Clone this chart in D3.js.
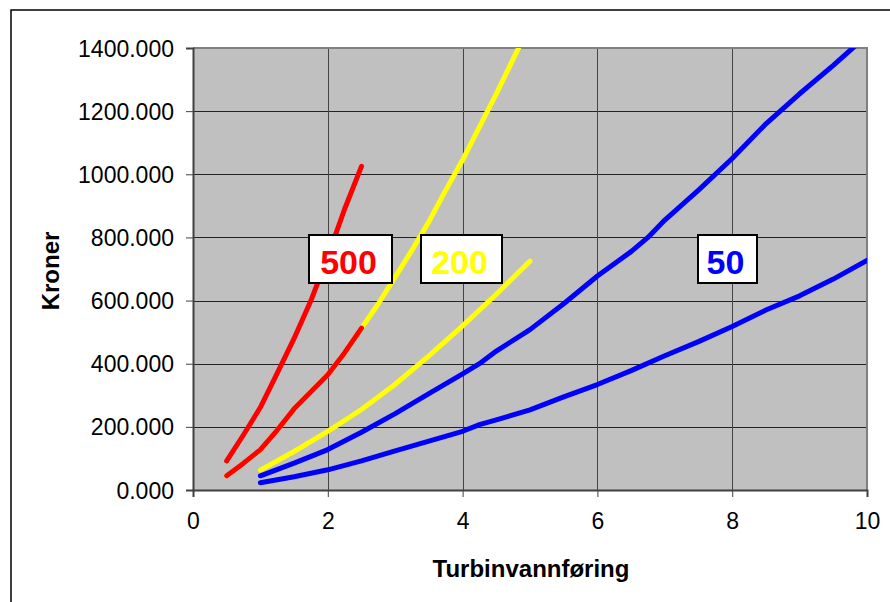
<!DOCTYPE html>
<html>
<head>
<meta charset="utf-8">
<script src="https://cdn.jsdelivr.net/npm/d3@7"></script>
<style>
body { margin: 0; background: #fff; }
text { font-family: Arial, "Liberation Sans", sans-serif; }
</style>
</head>
<body>
<script>
// data, kroner in thousands
var red_hi_x = [0.5, 0.75, 1, 1.25, 1.5, 1.75, 2, 2.25, 2.5];
var red_hi_y = [92, 175, 262, 370, 480, 600, 740, 890, 1025];
var red_lo_x = [0.5, 0.75, 1, 1.25, 1.5, 1.75, 2, 2.25, 2.5];
var red_lo_y = [45, 85, 128, 190, 257, 311, 365, 435, 513];
var yel_hi_x = [0.5, 0.75, 1, 1.25, 1.5, 1.75, 2, 2.25, 2.5, 2.75, 3, 3.25, 3.5, 3.75, 4, 4.25, 4.5, 4.75, 5];
var yel_hi_y = [45, 85, 128, 190, 257, 311, 365, 435, 513, 590, 675, 760, 850, 950, 1045, 1150, 1255, 1365, 1475];
var yel_lo_x = [1, 1.5, 2, 2.5, 3, 3.5, 4, 4.5, 5];
var yel_lo_y = [63, 122, 186, 255, 335, 425, 520, 620, 725];
var blu_hi_x = [1, 1.5, 2, 2.5, 3, 3.5, 4, 4.25, 4.5, 5, 5.5, 6, 6.5, 6.75, 7, 7.5, 8, 8.5, 9, 9.5, 10];
var blu_hi_y = [45, 85, 128, 183, 242, 305, 368, 400, 440, 508, 590, 678, 755, 800, 855, 950, 1050, 1160, 1255, 1345, 1440];
var blu_lo_x = [1, 1.5, 2, 2.5, 3, 3.5, 4, 4.25, 4.5, 5, 5.5, 6, 6.5, 7, 7.5, 8, 8.5, 9, 9.5, 10];
var blu_lo_y = [23, 42, 64, 92, 124, 155, 186, 207, 222, 254, 295, 334, 378, 425, 470, 518, 570, 615, 668, 727];

var x_ticks = [0, 2, 4, 6, 8, 10];
var y_ticks = [0, 200, 400, 600, 800, 1000, 1200, 1400];

var series_list = [
	{x: yel_hi_x, y: yel_hi_y, color: "#FFFF00"},
	{x: red_hi_x, y: red_hi_y, color: "#FF0000"},
	{x: red_lo_x, y: red_lo_y, color: "#FF0000"},
	{x: yel_lo_x, y: yel_lo_y, color: "#FFFF00"},
	{x: blu_hi_x, y: blu_hi_y, color: "#0000FF"},
	{x: blu_lo_x, y: blu_lo_y, color: "#0000FF"}
];
var label_names = ["500", "200", "50"];
var label_colors = ["#FF0000", "#FFFF00", "#0000FF"];
var label_pos = [[309, 235, 83], [421, 235, 81], [698, 235, 59]];

///////////////////////////
// plot parameter
var svg = d3.select("body")
	.append("svg")
	.attr("width", 890)
	.attr("height", 602);

var margin = {top: 48, left: 193, right: 867, bottom: 490};

// outer frame
svg.append("rect")
	.attr("x", 11).attr("y", 10)
	.attr("width", 920).attr("height", 640)
	.attr("fill", "none")
	.attr("stroke", "#000")
	.attr("stroke-width", 1.5);

var xScale = d3.scaleLinear().domain([0, 10]).range([margin.left, margin.right]);
var yScale = d3.scaleLinear().domain([0, 1400]).range([margin.bottom, margin.top]);

// plot area
svg.append("rect")
	.attr("x", margin.left).attr("y", margin.top)
	.attr("width", margin.right - margin.left)
	.attr("height", margin.bottom - margin.top)
	.attr("fill", "#C0C0C0");

// grid
svg.append("g").selectAll("line")
	.data(y_ticks.slice(1, -1))
	.enter().append("line")
	.attr("x1", margin.left).attr("x2", margin.right)
	.attr("y1", function(d) { return Math.round(yScale(d)) + 0.5; })
	.attr("y2", function(d) { return Math.round(yScale(d)) + 0.5; })
	.attr("stroke", "#222").attr("stroke-width", 1);
svg.append("g").selectAll("line")
	.data(x_ticks.slice(1, -1))
	.enter().append("line")
	.attr("y1", margin.top).attr("y2", margin.bottom)
	.attr("x1", function(d) { return Math.round(xScale(d)) + 0.5; })
	.attr("x2", function(d) { return Math.round(xScale(d)) + 0.5; })
	.attr("stroke", "#444").attr("stroke-width", 1);

// top and right border
svg.append("path")
	.attr("d", "M" + margin.left + "," + margin.top + "H" + margin.right + "V" + margin.bottom)
	.attr("fill", "none")
	.attr("stroke", "#808080")
	.attr("stroke-width", 2);

// axes
var xAxis = d3.axisBottom(xScale).tickValues(x_ticks).tickSize(7).tickPadding(16);
var yAxis = d3.axisLeft(yScale).tickValues(y_ticks).tickSize(7).tickPadding(12)
	.tickFormat(d3.format(".3f"));

var gx = svg.append("g")
	.attr("transform", "translate(0," + margin.bottom + ")")
	.call(xAxis);
var gy = svg.append("g")
	.attr("transform", "translate(" + margin.left + ",0)")
	.call(yAxis);
[gx, gy].forEach(function(g) {
	g.select(".domain").attr("stroke", "#404040").attr("stroke-width", 2);
	g.selectAll(".tick line").attr("stroke", "#404040");
	g.selectAll(".tick text")
		.attr("fill", "#000")
		.style("font-size", "23px")
		.style("font-family", "Arial, 'Liberation Sans', sans-serif");
});
gy.selectAll(".tick text").attr("dy", "0.35em");

// clip
svg.append("clipPath").attr("id", "plotClip")
	.append("rect")
	.attr("x", margin.left).attr("y", margin.top)
	.attr("width", margin.right - margin.left)
	.attr("height", margin.bottom - margin.top);

var lineFunction = d3.line()
	.x(function(d) { return xScale(d[0]); })
	.y(function(d) { return yScale(d[1]); });

var lines = svg.append("g").attr("clip-path", "url(#plotClip)");
series_list.forEach(function(s) {
	var pts = s.x.map(function(v, i) { return [v, s.y[i]]; });
	lines.append("path")
		.attr("d", lineFunction(pts))
		.attr("fill", "none")
		.attr("stroke", s.color)
		.attr("stroke-width", 5)
		.attr("stroke-linejoin", "round")
		.attr("stroke-linecap", "round");
});

// labels
label_names.forEach(function(name, i) {
	var p = label_pos[i];
	svg.append("rect")
		.attr("x", p[0]).attr("y", p[1])
		.attr("width", p[2]).attr("height", 48)
		.attr("fill", "#fff")
		.attr("stroke", "#000")
		.attr("stroke-width", 2);
	svg.append("text")
		.attr("x", p[0] + p[2] / 2 - 2)
		.attr("y", p[1] + 39)
		.attr("text-anchor", "middle")
		.attr("fill", label_colors[i])
		.attr("font-weight", "bold")
		.attr("font-size", 34)
		.text(name);
});

// axis titles
svg.append("text")
	.attr("x", 531).attr("y", 577)
	.attr("text-anchor", "middle")
	.attr("font-weight", "bold")
	.attr("font-size", 24)
	.text("Turbinvannføring");
svg.append("text")
	.attr("transform", "translate(59,271) rotate(-90)")
	.attr("text-anchor", "middle")
	.attr("font-weight", "bold")
	.attr("font-size", 24)
	.text("Kroner");
</script>
</body>
</html>
